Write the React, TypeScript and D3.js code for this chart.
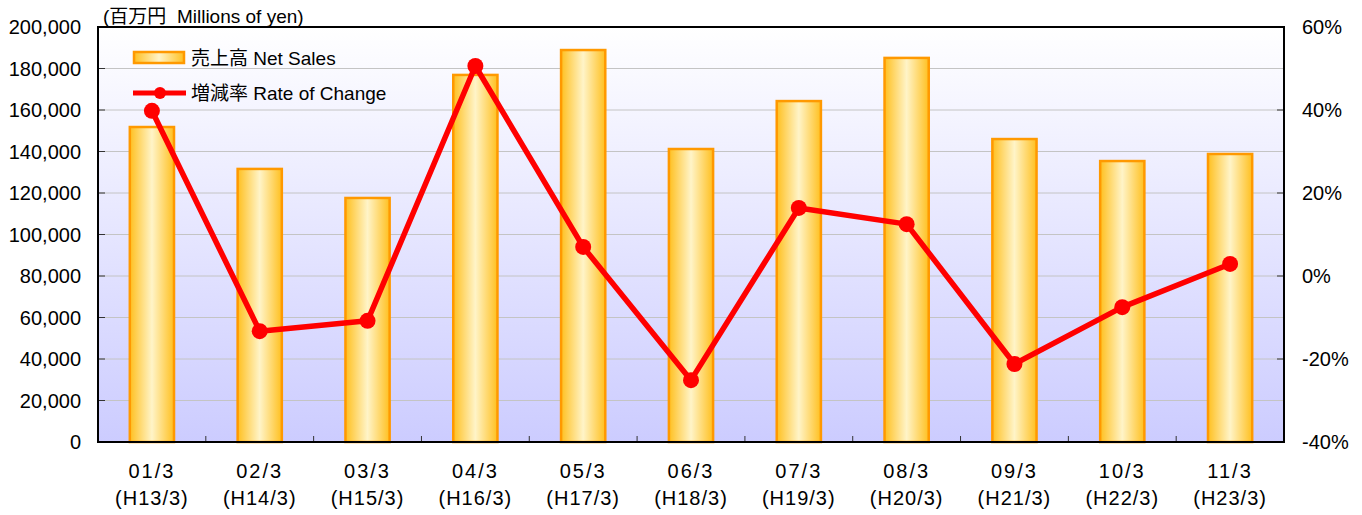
import React, { useEffect, useRef } from "react";
import * as d3 from "d3";

// categories (fiscal years)
const years = ["01/3", "02/3", "03/3", "04/3", "05/3", "06/3", "07/3", "08/3", "09/3", "10/3", "11/3"];
const eras = ["(H13/3)", "(H14/3)", "(H15/3)", "(H16/3)", "(H17/3)", "(H18/3)", "(H19/3)", "(H20/3)", "(H21/3)", "(H22/3)", "(H23/3)"];
// net sales, millions of yen
const netSales = [151800, 131600, 117600, 176900, 188900, 141200, 164300, 185100, 146000, 135400, 138800];
// rate of change, %
const rateOfChange = [39.8, -13.3, -10.8, 50.6, 7.0, -25.1, 16.4, 12.5, -21.2, -7.5, 2.9];
const leftTicks = [0, 20000, 40000, 60000, 80000, 100000, 120000, 140000, 160000, 180000, 200000];
const rightTicks = [-40, -20, 0, 20, 40, 60];

const W = 1362;
const H = 515;
const font = "Arial, 'Liberation Sans', sans-serif";
const jfont = "Arial, 'Liberation Sans', 'Noto Sans CJK JP', sans-serif";

export default function App() {
  const ref = useRef<SVGSVGElement>(null);

  useEffect(() => {
    const svg = d3.select(ref.current);
    svg.selectAll("*").remove();

    const left = 98, right = 1284, top = 27, bottom = 442;

    const x = d3.scaleBand().domain(years).range([left, right]).paddingInner(0.59).paddingOuter(0.295);
    const yL = d3.scaleLinear().domain([0, 200000]).range([bottom, top]);
    const yR = d3.scaleLinear().domain([-40, 60]).range([bottom, top]);

    const defs = svg.append("defs");
    const bg = defs.append("linearGradient").attr("id", "bg").attr("x1", 0).attr("y1", 0).attr("x2", 0).attr("y2", 1);
    bg.append("stop").attr("offset", "0%").attr("stop-color", "#ffffff");
    bg.append("stop").attr("offset", "100%").attr("stop-color", "#ccccff");

    const bar = defs.append("linearGradient").attr("id", "bar").attr("x1", 0).attr("y1", 0).attr("x2", 1).attr("y2", 0);
    bar.append("stop").attr("offset", "0%").attr("stop-color", "#ffc020");
    bar.append("stop").attr("offset", "50%").attr("stop-color", "#fff4c8");
    bar.append("stop").attr("offset", "100%").attr("stop-color", "#ffc020");

    // plot background
    svg.append("rect")
      .attr("x", left).attr("y", top)
      .attr("width", right - left).attr("height", bottom - top)
      .attr("fill", "url(#bg)");

    // gridlines
    svg.append("g")
      .selectAll("line")
      .data(leftTicks.slice(1, -1))
      .enter()
      .append("line")
      .attr("x1", left).attr("x2", right)
      .attr("y1", (d) => yL(d)).attr("y2", (d) => yL(d))
      .attr("stroke", "#c4c4c4")
      .attr("stroke-width", 1);

    // bars
    svg.append("g")
      .selectAll("rect")
      .data(netSales)
      .enter()
      .append("rect")
      .attr("x", (d, i) => x(years[i])!)
      .attr("y", (d) => yL(d))
      .attr("width", x.bandwidth())
      .attr("height", (d) => bottom - yL(d))
      .attr("fill", "url(#bar)")
      .attr("stroke", "#ff9900")
      .attr("stroke-width", 2.5);

    // line
    const cx = (i: number) => x(years[i])! + x.bandwidth() / 2;
    const line = d3.line<number>().x((d, i) => cx(i)).y((d) => yR(d));
    svg.append("path")
      .datum(rateOfChange)
      .attr("d", line)
      .attr("fill", "none")
      .attr("stroke", "#ff0000")
      .attr("stroke-width", 5.5)
      .attr("stroke-linejoin", "round");
    svg.append("g")
      .selectAll("circle")
      .data(rateOfChange)
      .enter()
      .append("circle")
      .attr("cx", (d, i) => cx(i))
      .attr("cy", (d) => yR(d))
      .attr("r", 8)
      .attr("fill", "#ff0000");

    // ticks (inward)
    const step = (right - left) / years.length;
    svg.append("g")
      .selectAll("line")
      .data(d3.range(1, years.length))
      .enter()
      .append("line")
      .attr("x1", (d) => left + d * step).attr("x2", (d) => left + d * step)
      .attr("y1", bottom).attr("y2", bottom - 6)
      .attr("stroke", "#333").attr("stroke-width", 1);
    svg.append("g")
      .selectAll("line")
      .data(leftTicks)
      .enter()
      .append("line")
      .attr("x1", left).attr("x2", left + 7)
      .attr("y1", (d) => yL(d)).attr("y2", (d) => yL(d))
      .attr("stroke", "#333").attr("stroke-width", 1);
    svg.append("g")
      .selectAll("line")
      .data(rightTicks)
      .enter()
      .append("line")
      .attr("x1", right - 7).attr("x2", right)
      .attr("y1", (d) => yR(d)).attr("y2", (d) => yR(d))
      .attr("stroke", "#333").attr("stroke-width", 1);

    // frame
    svg.append("rect")
      .attr("x", left).attr("y", top)
      .attr("width", right - left).attr("height", bottom - top)
      .attr("fill", "none")
      .attr("stroke", "#000")
      .attr("stroke-width", 2);

    // left labels
    svg.append("g")
      .selectAll("text")
      .data(leftTicks)
      .enter()
      .append("text")
      .attr("x", 81)
      .attr("y", (d) => yL(d))
      .attr("dy", "0.36em")
      .attr("text-anchor", "end")
      .attr("font-family", font).attr("font-size", 20)
      .text((d) => d3.format(",")(d));

    // right labels
    svg.append("g")
      .selectAll("text")
      .data(rightTicks)
      .enter()
      .append("text")
      .attr("x", 1302)
      .attr("y", (d) => yR(d))
      .attr("dy", "0.36em")
      .attr("text-anchor", "start")
      .attr("font-family", font).attr("font-size", 20)
      .text((d) => (d < 0 ? "-" + Math.abs(d) + "%" : d + "%"));

    // x labels
    const xl = svg.append("g");
    xl.selectAll("text.y")
      .data(years)
      .enter()
      .append("text")
      .attr("class", "y")
      .attr("x", (d) => x(d)! + x.bandwidth() / 2)
      .attr("y", 478)
      .attr("text-anchor", "middle")
      .attr("letter-spacing", 2)
      .attr("font-family", font).attr("font-size", 20)
      .text((d) => d);
    xl.selectAll("text.e")
      .data(eras)
      .enter()
      .append("text")
      .attr("class", "e")
      .attr("x", (d, i) => x(years[i])! + x.bandwidth() / 2)
      .attr("y", 505)
      .attr("text-anchor", "middle")
      .attr("letter-spacing", 1)
      .attr("font-family", font).attr("font-size", 20)
      .text((d) => d);

    // unit label
    svg.append("text")
      .attr("x", 103).attr("y", 23)
      .attr("font-family", jfont).attr("font-size", 19)
      .style("white-space", "pre")
      .text("(百万円  Millions of yen)");

    // legend
    const lg = svg.append("g");
    lg.append("rect")
      .attr("x", 134).attr("y", 52).attr("width", 50).attr("height", 11)
      .attr("fill", "url(#bar)").attr("stroke", "#ff9900").attr("stroke-width", 2.5);
    lg.append("text")
      .attr("x", 191).attr("y", 65)
      .attr("font-family", jfont).attr("font-size", 19)
      .text("売上高 Net Sales");
    lg.append("line")
      .attr("x1", 133).attr("x2", 186).attr("y1", 93).attr("y2", 93)
      .attr("stroke", "#ff0000").attr("stroke-width", 5);
    lg.append("circle").attr("cx", 160).attr("cy", 93).attr("r", 6).attr("fill", "#ff0000");
    lg.append("text")
      .attr("x", 191).attr("y", 100)
      .attr("font-family", jfont).attr("font-size", 19)
      .text("増減率 Rate of Change");
  }, []);

  return <svg ref={ref} width={W} height={H} style={{ position: "absolute", left: 0, top: 0, background: "#fff" }} />;
}
